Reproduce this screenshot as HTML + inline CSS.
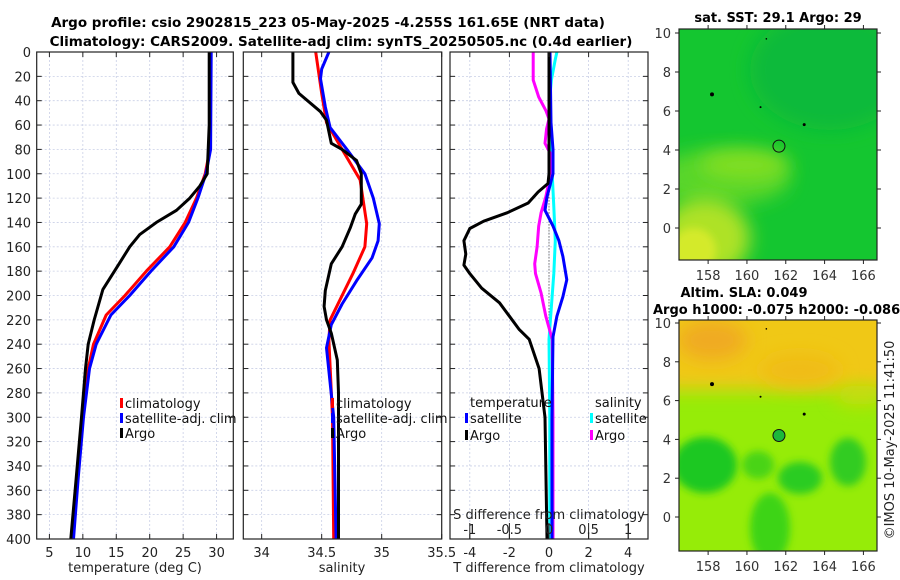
<!DOCTYPE html>
<html><head><meta charset="utf-8"><style>
html,body{margin:0;padding:0;background:#fff;}
svg{display:block;font-family:"DejaVu Sans","Liberation Sans",sans-serif;}
</style></head><body>
<svg id="chart" width="900" height="580" viewBox="0 0 900 580">
<defs>
<filter id="blur6" filterUnits="userSpaceOnUse" x="600" y="0" width="300" height="580"><feGaussianBlur stdDeviation="9"/></filter>
<filter id="blur3" filterUnits="userSpaceOnUse" x="600" y="0" width="300" height="580"><feGaussianBlur stdDeviation="4"/></filter>
<clipPath id="clipMap1"><rect x="679" y="29" width="198" height="231"/></clipPath>
<clipPath id="clipMap2"><rect x="679" y="320" width="198" height="231"/></clipPath>
</defs>
<text x="328" y="27" text-anchor="middle" font-size="13.5" font-weight="bold">Argo profile: csio 2902815_223 05-May-2025 -4.255S 161.65E (NRT data)</text>
<text x="341" y="46" text-anchor="middle" font-size="13.5" font-weight="bold">Climatology: CARS2009. Satellite-adj clim: synTS_20250505.nc (0.4d earlier)</text>
<g id="panels"></g>
<g id="maps"></g>
<text transform="translate(894,440) rotate(-90)" text-anchor="middle" font-size="13" fill="#222">©IMOS 10-May-2025 11:41:50</text>
</svg>
<script>
// ---- data ----
const depthTicks = [0,20,40,60,80,100,120,140,160,180,200,220,240,260,280,300,320,340,360,380,400];
const tempTicks = [5,10,15,20,25,30];
const salTicks = [34,34.5,35,35.5];
const salTickLabels = ["34","34.5","35","35.5"];
const dTTicks = [-4,-2,0,2,4];
const dSTicks = [-1,-0.5,0,0.5,1];
const dSTickLabels = ["-1","-0.5","0","0.5","1"];

const depthTArgo = [0,60,100,110,120,130,140,150,160,175,195,220,240,260,300,350,400];
const tempArgo = [28.9,28.9,28.6,27.5,26,24,21,18.5,17,15.3,13,11.7,10.8,10.4,9.8,9,8.2];
const depthTClim = [0,80,100,120,140,160,180,200,216,240,260,300,350,400];
const tempClim = [29.1,29,28.3,27,25.3,23,19.5,16.3,13.5,11.6,10.8,10,9.2,8.4];
const tempSat = [29.2,29.1,28.4,27.2,25.8,23.6,20.2,17.0,14.2,12.0,11.0,10.1,9.3,8.6];

const depthSArgo = [0,25,34,49,56,75,80,89,100,125,133,144,160,174,196,209,220,231,253,280,400];
const salArgo = [34.26,34.26,34.31,34.49,34.54,34.58,34.67,34.79,34.83,34.83,34.78,34.74,34.67,34.58,34.53,34.52,34.54,34.58,34.63,34.64,34.64];
const depthSClim = [0,34,58,80,105,141,160,182,204,220,237,300,400];
const salClim = [34.45,34.5,34.54,34.67,34.82,34.875,34.86,34.76,34.65,34.57,34.56,34.59,34.60];
const depthSSat = [0,14,22,45,62,80,100,120,141,155,169,188,207,224,243,300,400];
const salSat = [34.56,34.5,34.49,34.53,34.57,34.71,34.86,34.93,34.98,34.97,34.92,34.79,34.67,34.58,34.54,34.60,34.62];

const depthDT = [0,100,108,115,124,132,139,145,155,166,175,182,194,206,217,228,236,260,300,400];
const dTArgo = [0,0,-0.05,-0.55,-1.05,-2.1,-3.3,-4,-4.3,-4.2,-4.3,-4,-3.4,-2.5,-2,-1.5,-1,-0.5,-0.2,-0.1];
const depthDTS = [0,58,80,100,119,130,143,155,168,187,201,217,234,300,400];
const dTSat = [0.05,0.1,0.2,0.2,-0.1,-0.2,0.2,0.5,0.7,0.9,0.7,0.4,0.2,0.15,0.15];
const depthDS = [0,23,37,48,55,63,75,85,100,119,132,143,160,174,182,198,217,236,300,400];
const dSArgo = [-0.2,-0.2,-0.13,-0.04,0,-0.03,-0.05,0.03,0.02,-0.04,-0.1,-0.13,-0.15,-0.18,-0.17,-0.1,-0.04,0.04,0.05,0.05];
const depthDSS = [0,6,23,45,72,100,127,155,182,209,236,300,400];
const dSSat = [0.1,0.08,0.03,0,0.01,0.04,0.06,0.08,0.06,0.03,0,0.01,0.01];

const lonTicks = [158,160,162,164,166];
const latTicks = [0,2,4,6,8,10];
const argoLon = [161.65];
const argoLat = [4.2];

// ---- helpers ----
const NS = "http://www.w3.org/2000/svg";
function mk(tag, attrs, parent, txt){
  const e = document.createElementNS(NS, tag);
  for (const k in attrs) e.setAttribute(k, attrs[k]);
  if (txt !== undefined) e.textContent = txt;
  parent.appendChild(e);
  return e;
}
const yTop = 52, yBot = 539;
const yScale = d => yTop + (d/400)*(yBot-yTop);
function lin(d0,d1,r0,r1){ return v => r0 + (v-d0)/(d1-d0)*(r1-r0); }

const panels = document.getElementById('panels');
const P1 = {x0:36.7, x1:233.3, s: lin(3.1,32.5,36.7,233.3)};
const P2 = {x0:243.3, x1:441.7, s: lin(33.847,35.5,243.3,441.7)};
const P3 = {x0:450, x1:648, s: lin(-5,5,450,648)};
const sDiff = lin(-1.25,1.25,450,648);

function grid(P, xs, scale, name){
  const g = mk('g',{},panels);
  
  
  depthTicks.forEach(d=>{ if(d>0 && d<400){ mk('line',{x1:P.x0,x2:P.x1,y1:yScale(d),y2:yScale(d),stroke:'#c9cfe6','stroke-width':0.8,'stroke-dasharray':'2,2'},g);}});
  xs.forEach(v=>{ const x=scale(v); if(x>P.x0+1 && x<P.x1-1) mk('line',{x1:x,x2:x,y1:yTop,y2:yBot,stroke:'#c9cfe6','stroke-width':0.8,'stroke-dasharray':'2,2'},g);});
}
function frame(P, name){
  const r = mk('rect',{x:P.x0,y:yTop,width:P.x1-P.x0,height:yBot-yTop,fill:'none',stroke:'#222','stroke-width':1.2},panels);
  
  
  depthTicks.forEach(d=>{ if(d>0&&d<400){
    mk('line',{x1:P.x0,x2:P.x0+5,y1:yScale(d),y2:yScale(d),stroke:'#222'},panels);
    mk('line',{x1:P.x1-5,x2:P.x1,y1:yScale(d),y2:yScale(d),stroke:'#222'},panels);
  }});
}
function xticks(P, vals, labels, scale, name){
  const g = mk('g',{},panels);
  
  
  vals.forEach((v,i)=>{ const x=scale(v);
    mk('line',{x1:x,x2:x,y1:yBot,y2:yBot-5,stroke:'#222'},g);
    mk('line',{x1:x,x2:x,y1:yTop,y2:yTop+5,stroke:'#222'},g);
    const t = mk('text',{x:x,y:yBot+18,'text-anchor':'middle','font-size':13,fill:'#222'},g,labels[i]);
    
    
  });
}
function line(xsVals, depths, scale, color, name, w){
  const pts = depths.map((d,i)=> scale(xsVals[i]).toFixed(1)+','+yScale(d).toFixed(1)).join(' ');
  const p = mk('polyline',{points:pts,fill:'none',stroke:color,'stroke-width':w||3,'stroke-linejoin':'round'},panels);
  
  
}
function legendEntry(x,y,color,label,name){
  const g = mk('g',{},panels);
  
  
  mk('rect',{x:x,y:y-10,width:3,height:10,fill:color},g);
  mk('text',{x:x+5,y:y,'font-size':13,fill:'#111'},g,label);
}

depthTicks.forEach(d=>{
  const t = mk('text',{x:31,y:yScale(d)+5,'text-anchor':'end','font-size':13,fill:'#222'},panels,String(d));
  
  
});

// Panel 1
grid(P1, tempTicks, P1.s, 'temperature-panel');
line(tempClim, depthTClim, P1.s, '#ff0000', 'temp-climatology-line');
line(tempSat, depthTClim, P1.s, '#0000ff', 'temp-satellite-line');
line(tempArgo, depthTArgo, P1.s, '#000000', 'temp-argo-line');
frame(P1,'temperature-panel');
xticks(P1, tempTicks, tempTicks.map(String), P1.s, 'temperature');
legendEntry(120,408,'#ff0000','climatology','legend-climatology-1');
legendEntry(120,423,'#0000ff','satellite-adj. clim','legend-satellite-1');
legendEntry(120,438,'#000000','Argo','legend-argo-1');
let tt = mk('text',{x:135,y:572,'text-anchor':'middle','font-size':13,fill:'#222'},panels,'temperature (deg C)');



// Panel 2
grid(P2, salTicks, P2.s, 'salinity-panel');
line(salClim, depthSClim, P2.s, '#ff0000', 'sal-climatology-line');
line(salSat, depthSSat, P2.s, '#0000ff', 'sal-satellite-line');
line(salArgo, depthSArgo, P2.s, '#000000', 'sal-argo-line');
frame(P2,'salinity-panel');
xticks(P2, salTicks, salTickLabels, P2.s, 'salinity');
legendEntry(331,408,'#ff0000','climatology','legend-climatology-2');
legendEntry(331,423,'#0000ff','satellite-adj. clim','legend-satellite-2');
legendEntry(331,438,'#000000','Argo','legend-argo-2');
tt = mk('text',{x:342,y:572,'text-anchor':'middle','font-size':13,fill:'#222'},panels,'salinity');



// Panel 3
grid(P3, dTTicks, P3.s, 'difference-panel');
const zl = mk('line',{x1:P3.s(0),x2:P3.s(0),y1:yScale(80),y2:yBot,stroke:'#333','stroke-width':1,'stroke-dasharray':'1,2'},panels);


line(dSSat, depthDSS, sDiff, '#00ffff', 'sal-diff-satellite-line');
line(dSArgo, depthDS, sDiff, '#ff00ff', 'sal-diff-argo-line');
line(dTSat, depthDTS, P3.s, '#0000ff', 'temp-diff-satellite-line');
line(dTArgo, depthDT, P3.s, '#000000', 'temp-diff-argo-line');
frame(P3,'difference-panel');
xticks(P3, dTTicks, dTTicks.map(String), P3.s, 'temp-diff');
let lt = mk('text',{x:470,y:407,'font-size':13,fill:'#111'},panels,'temperature');


lt = mk('text',{x:595,y:407,'font-size':13,fill:'#111'},panels,'salinity');


legendEntry(465,423,'#0000ff','satellite','legend-temp-diff-satellite');
legendEntry(465,440,'#000000','Argo','legend-temp-diff-argo');
legendEntry(590,423,'#00ffff','satellite','legend-sal-diff-satellite');
legendEntry(590,440,'#ff00ff','Argo','legend-sal-diff-argo');
const sAx = mk('g',{},panels);


mk('text',{x:549,y:519,'text-anchor':'middle','font-size':13,fill:'#222'},sAx,'S difference from climatology');
dSTicks.forEach((v,i)=>{ const x=sDiff(v);
  mk('line',{x1:x,x2:x,y1:yBot,y2:yBot-16,stroke:'#222'},sAx);
  mk('text',{x:x,y:534,'text-anchor':'middle','font-size':13,fill:'#222'},sAx,dSTickLabels[i]);
});
tt = mk('text',{x:549,y:572,'text-anchor':'middle','font-size':13,fill:'#222'},panels,'T difference from climatology');



// ---- maps ----
const maps = document.getElementById('maps');
const lonS = lin(156.5,166.7,679,877);
function mapAxes(y0,y1,lat10y,lat0y,name){
  const latS = lin(0,10,lat0y,lat10y);
  const g = mk('g',{},maps);
  
  
  mk('rect',{x:679,y:y0,width:198,height:y1-y0,fill:'none',stroke:'#222','stroke-width':1.2},g);
  lonTicks.forEach(v=>{const x=lonS(v);
    mk('line',{x1:x,x2:x,y1:y1,y2:y1+4,stroke:'#222'},g);
    mk('line',{x1:x,x2:x,y1:y0,y2:y0-4,stroke:'#222'},g);
    mk('text',{x:x,y:y1+20,'text-anchor':'middle','font-size':13,fill:'#333'},g,String(v));});
  latTicks.forEach(v=>{const y=latS(v);
    mk('line',{x1:675,x2:679,y1:y,y2:y,stroke:'#222'},g);
    mk('line',{x1:877,x2:881,y1:y,y2:y,stroke:'#222'},g);
    mk('text',{x:671,y:y+5,'text-anchor':'end','font-size':13,fill:'#333'},g,String(v));});
  return latS;
}
// map 1 SST
const m1 = mk('g',{'clip-path':'url(#clipMap1)'},maps);


mk('rect',{x:679,y:29,width:198,height:231,fill:'#14c630'},m1);
mk('ellipse',{cx:830,cy:70,rx:80,ry:60,fill:'#0cba3a',filter:'url(#blur6)'},m1);
mk('ellipse',{cx:720,cy:178,rx:70,ry:28,fill:'#58d62a',filter:'url(#blur6)'},m1);
mk('ellipse',{cx:745,cy:165,rx:45,ry:15,fill:'#80de22',filter:'url(#blur6)'},m1);
mk('ellipse',{cx:705,cy:238,rx:45,ry:40,fill:'#aee226',filter:'url(#blur6)'},m1);
mk('ellipse',{cx:694,cy:250,rx:22,ry:22,fill:'#d4ea2a',filter:'url(#blur3)'},m1);
const lat1 = mapAxes(29,260,33,228,'sst-map');
// map 2 SLA
const m2 = mk('g',{'clip-path':'url(#clipMap2)'},maps);


mk('rect',{x:679,y:320,width:198,height:231,fill:'#96ec08'},m2);
mk('rect',{x:660,y:300,width:240,height:90,fill:'#f0c814',filter:'url(#blur6)'},m2);
mk('ellipse',{cx:860,cy:395,rx:25,ry:10,fill:'#c8dc10',filter:'url(#blur6)'},m2);
mk('ellipse',{cx:712,cy:340,rx:35,ry:20,fill:'#f0aa22',filter:'url(#blur6)'},m2);
mk('ellipse',{cx:800,cy:370,rx:40,ry:16,fill:'#f0bc16',filter:'url(#blur6)'},m2);
mk('ellipse',{cx:705,cy:465,rx:32,ry:28,fill:'#1cc824',filter:'url(#blur3)'},m2);
mk('ellipse',{cx:758,cy:465,rx:16,ry:14,fill:'#48d418',filter:'url(#blur3)'},m2);
mk('ellipse',{cx:800,cy:478,rx:22,ry:16,fill:'#2ccc20',filter:'url(#blur3)'},m2);
mk('ellipse',{cx:848,cy:462,rx:18,ry:24,fill:'#30cc20',filter:'url(#blur3)'},m2);
mk('ellipse',{cx:770,cy:528,rx:20,ry:35,fill:'#3cd418',filter:'url(#blur3)'},m2);
const lat2 = mapAxes(320,551,323,517,'sla-map');
[[lat1],[lat2]].forEach((a,i)=>{
  const ls=a[0];
  const g = mk('g',{},maps);
  
  
  [[158.2,6.85,2],[160.7,6.2,1],[162.95,5.3,1.5],[161,9.7,0.8]].forEach(p=>mk('circle',{cx:lonS(p[0]),cy:ls(p[1]),r:p[2],fill:'#000'},g));
  argoLon.forEach((lo,j)=>{
    const c = mk('circle',{cx:lonS(lo),cy:ls(argoLat[j]),r:6,fill:i===0?'none':'#1cb83a',stroke:'#111','stroke-width':1},g);
    
    
  });
});
let mt = mk('text',{x:778,y:22,'text-anchor':'middle','font-size':13,'font-weight':'bold'},maps,'sat. SST: 29.1 Argo: 29');


mt = mk('text',{x:744,y:297,'text-anchor':'middle','font-size':13,'font-weight':'bold'},maps,'Altim. SLA: 0.049');


mt = mk('text',{x:653,y:314,'font-size':13,'font-weight':'bold'},maps,'Argo h1000: -0.075 h2000: -0.086');


</script>
</body></html>
